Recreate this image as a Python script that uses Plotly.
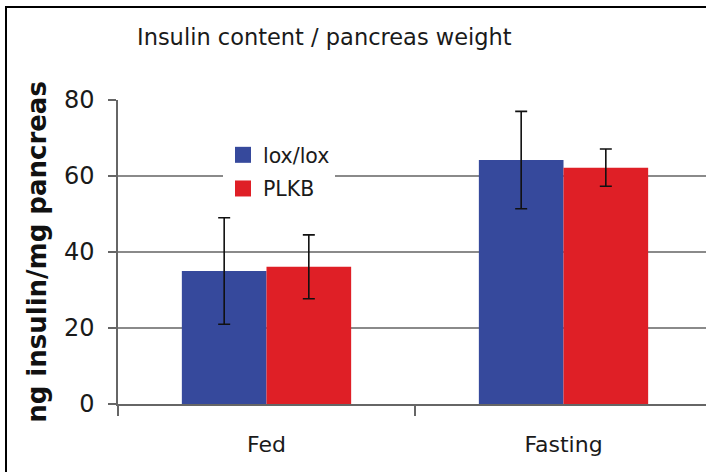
import plotly.graph_objects as go

categories = ["Fed", "Fasting"]
series_names = ["lox/lox", "PLKB"]
lox_values = [35.0, 64.2]
lox_errors = [14.0, 12.8]
plkb_values = [36.1, 62.2]
plkb_errors = [8.4, 4.9]
y_ticks = [0, 20, 40, 60, 80]

colors = ["#36499C", "#DF1F26"]
font = "DejaVu Sans, Verdana, sans-serif"

fig = go.Figure()
for name, vals, errs, col in zip(series_names, [lox_values, plkb_values],
                                 [lox_errors, plkb_errors], colors):
    fig.add_trace(go.Bar(
        x=categories, y=vals, name=name, marker=dict(color=col, line=dict(width=0)),
        error_y=dict(type="data", array=errs, color="#111111", thickness=1.6, width=6),
        showlegend=False,
    ))
for i, (name, col) in enumerate(zip(series_names, colors)):
    fig.add_trace(go.Scatter(
        x=[None], y=[None], mode="markers", name=name, legendgroup=name,
        marker=dict(symbol="square", size=18, color=col),
    ))

L, T = 118, 100
W, H = 706, 472
pw, ph = W - L, 304

def px(x):
    return (x - L) / pw

def py(y):
    return (T + ph - y) / ph

fig.update_layout(
    width=W, height=H,
    margin=dict(l=L, r=0, t=T, b=H - T - ph),
    paper_bgcolor="white", plot_bgcolor="white",
    barmode="group", bargap=0.43, bargroupgap=0,
    font=dict(family=font, color="#1a1a1a"),
    title=dict(text="Insulin content / pancreas weight", xref="container", yref="container",
               x=137 / W, xanchor="left", y=1 - 37 / H, yanchor="middle",
               font=dict(size=22.5, family=font, color="#1a1a1a")),
    legend=dict(x=px(223), y=py(135), xanchor="left", yanchor="top",
                bgcolor="white", font=dict(size=20.5, family=font, color="#1a1a1a"),
                tracegroupgap=4, itemwidth=30),
    xaxis=dict(type="category", range=[-0.5, -0.5 + pw / 297.0],
               showline=True, linecolor="#666666", linewidth=2,
               ticks="outside", tickson="boundaries", ticklen=10, tickcolor="#666666",
               tickwidth=1.5, tickfont=dict(size=22, family=font, color="#1a1a1a"),
               ticklabelstandoff=20, showgrid=False),
    yaxis=dict(range=[0, 80], tickvals=y_ticks, showline=True, linecolor="#666666",
               linewidth=1.5, ticks="outside", ticklen=8, tickcolor="#666666",
               tickwidth=1.5, tickfont=dict(size=24, family=font, color="#1a1a1a"),
               ticklabelstandoff=9, showgrid=True, gridcolor="#8a8a8a", gridwidth=2,
               zeroline=False,
               title=dict(text="<b>ng insulin/mg pancreas</b>", standoff=10,
                          font=dict(size=26, family=font, color="#111111"))),
    shapes=[
        dict(type="line", xref="paper", yref="y", x0=0, x1=1,
             y0=y_ticks[2], y1=y_ticks[2], layer="below",
             line=dict(color="#222222", width=1.2)),
        dict(type="line", xref="paper", yref="paper", x0=px(6), x1=px(6),
             y0=py(6), y1=py(H + 5), line=dict(color="black", width=2)),
        dict(type="line", xref="paper", yref="paper", x0=px(5), x1=px(W + 5),
             y0=py(7), y1=py(7), line=dict(color="black", width=2)),
    ],
)

fig.write_html("out.html", config={"displayModeBar": False},
               post_script="document.body.style.margin='0';")
